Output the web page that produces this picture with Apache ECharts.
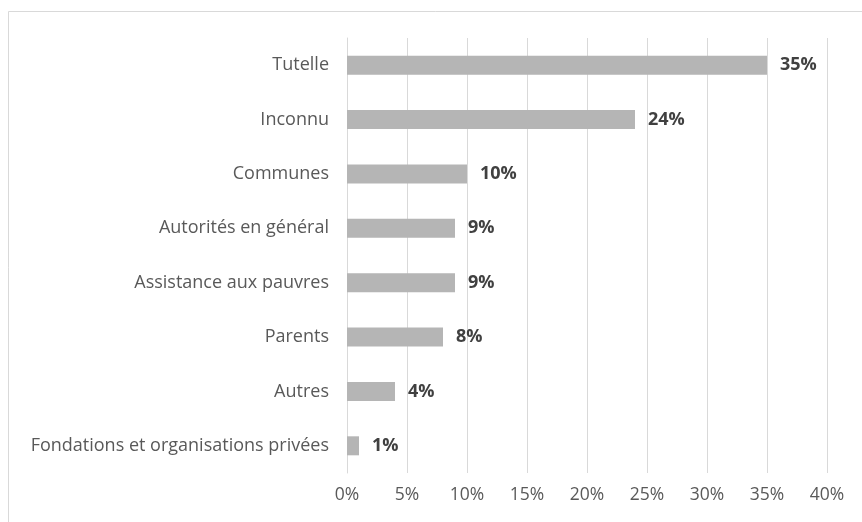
<!DOCTYPE html>
<html><head><meta charset="utf-8">
<script src="https://cdn.jsdelivr.net/npm/echarts@6/dist/echarts.min.js"></script>
<style>html,body{margin:0;padding:0;background:#fff}#c{width:862px;height:522px}</style>
</head><body><div id="c"></div>
<script>
var categories = ["Tutelle","Inconnu","Communes","Autorités en général","Assistance aux pauvres","Parents","Autres","Fondations et organisations privées"];
var values = [35,24,10,9,9,8,4,1];
var xTicks = [0,5,10,15,20,25,30,35,40];

var chart = echarts.init(document.getElementById('c'));
chart.setOption({
  animation:false,
  backgroundColor:'#fff',
  graphic:[{type:'rect',shape:{x:8.5,y:11.5,width:900,height:600},style:{fill:'none',stroke:'#d9d9d9',lineWidth:1}}],
  grid:{left:347,right:35,top:38,bottom:49,containLabel:false},
  xAxis:{type:'value',min:0,max:40,interval:5,
    axisLine:{show:false},axisTick:{show:false},
    splitLine:{show:true,lineStyle:{color:'#d9d9d9',width:1}},
    axisLabel:{formatter:function(v){return v+'%';},color:'#595959',fontSize:17.5,fontFamily:'Open Sans',margin:13}},
  yAxis:{type:'category',data:categories,inverse:true,
    axisLine:{show:true,lineStyle:{color:'#d9d9d9'}},axisTick:{show:false},
    axisLabel:{color:'#595959',fontSize:18,fontFamily:'Open Sans',margin:18}},
  series:[{type:'bar',data:values,barWidth:19,itemStyle:{color:'#b5b5b5'},
    label:{show:true,position:'right',distance:13,formatter:function(p){return p.value+'%';},
      color:'#404040',fontSize:18,fontWeight:'bold',fontFamily:'Open Sans'}}]
});
</script></body></html>
